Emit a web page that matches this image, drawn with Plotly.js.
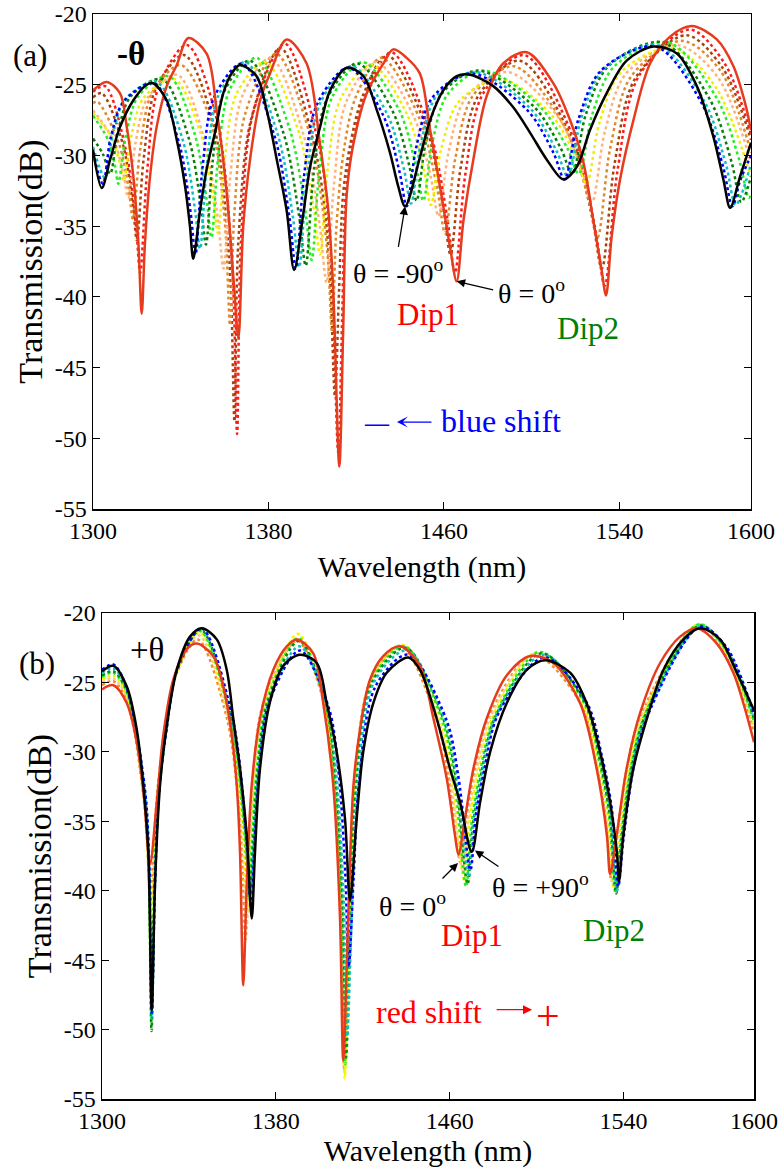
<!DOCTYPE html>
<html><head><meta charset="utf-8">
<script src="https://cdn.plot.ly/plotly-3.0.1.min.js"></script>
<style>html,body{margin:0;padding:0;background:#fff}#chart{width:781px;height:1168px}</style>
</head><body><div id="chart"></div>
<script>
// ---------- ticks ----------
const XTICKS = [1300, 1380, 1460, 1540, 1600];
const XTICK_LABELS = ['1300', '1380', '1460', '1540', '1600'];
const YTICKS = [-55, -50, -45, -40, -35, -30, -25, -20];
const YTICK_LABELS = ['-55', '-50', '-45', '-40', '-35', '-30', '-25', '-20'];

// ---------- panel (a): -theta ----------
const A_RED_X = [1300,1306.2,1312.3,1315.4,1318.4,1320.7,1322.2,1323.7,1326,1329,1333.6,1338.2,1343.5,1351.8,1356.4,1361,1364,1366.3,1368.5,1371.6,1376.2,1380.7,1388.3,1397.4,1403.5,1407.3,1409.6,1412.3,1414.1,1415.7,1418.7,1424.8,1432.4,1436.9,1443,1449,1453.7,1458.2,1462.8,1465.8,1468.9,1473.4,1479.5,1487,1497.8,1509.9,1517.5,1523.6,1528.1,1531.9,1533.9,1536.5,1540.3,1546.4,1554,1563.1,1573,1584.4,1592,1597.3,1600];
const A_RED_Y = [-25.4,-24.8,-25.6,-28,-31.5,-36.2,-41.2,-36.2,-31.5,-28,-25.1,-23.6,-21.7,-22.8,-26.8,-32.7,-38.6,-42.9,-35,-30.3,-26.1,-24.2,-21.8,-23.5,-29.2,-33.9,-39.8,-52,-42.1,-32.7,-29.2,-25.6,-23.5,-22.5,-23.1,-24.2,-28.2,-32.2,-36.5,-38.9,-34.6,-30.3,-25.8,-23.5,-22.7,-24.9,-27.5,-30.5,-34.6,-38.1,-39.9,-35.7,-31.7,-27.5,-23.5,-21.6,-20.85,-21.8,-23.7,-26.3,-28.2];
const A_BLK_X = [1300,1304,1307.8,1312.3,1318.4,1324.5,1327.4,1333.6,1338.2,1342,1344.2,1345.7,1348.8,1351.8,1355.6,1359.4,1363.2,1367,1374.6,1379.2,1383.8,1388.3,1391.7,1395.9,1399,1403.5,1408.1,1415.7,1423.3,1429.4,1435.4,1439.2,1442.3,1449.1,1453.7,1459.7,1465.8,1471.9,1482.5,1491.6,1499.3,1506.9,1514.5,1520.6,1526.6,1534.2,1543.3,1555.5,1566.2,1575.3,1582.9,1587.4,1590.5,1595,1600];
const A_BLK_Y = [-29.6,-32.3,-30.3,-28,-26.1,-25,-24.9,-26.1,-28.9,-32.2,-35,-37.3,-33.9,-31,-28.4,-25.6,-24.2,-23.6,-24.4,-26.8,-30.3,-33.9,-38.1,-34.1,-30.8,-28,-25.4,-23.8,-24.4,-26.8,-29.8,-32.2,-33.6,-30.1,-27.5,-25.4,-24.4,-24.3,-25.1,-26.6,-28.4,-30.3,-31.7,-30.8,-28.2,-25.6,-23.3,-22.3,-22.8,-25.1,-28.7,-31.7,-33.7,-31.5,-29.1];
const A_RD_X = [1300,1305.5,1315.1,1319.6,1321.5,1324.7,1330,1342.8,1356.5,1363.5,1365.7,1367.5,1373,1387.5,1403,1407,1409.2,1411.8,1413.6,1415.2,1418.3,1424.3,1436,1453.4,1461.5,1465,1469.7,1477.6,1496.5,1518.6,1528.9,1533.3,1539.1,1548.8,1572,1588,1600];
const A_RD_Y = [-25.5,-25.1,-29.7,-35,-38.3,-31.1,-25.1,-22.2,-27.5,-38,-49.7,-36,-27,-22.1,-29.3,-34,-39.5,-51,-41.5,-32.8,-29.3,-25.7,-22.7,-28.2,-34.4,-38.3,-31.4,-25.7,-22.9,-28.6,-35.1,-39.2,-31.1,-24.4,-21.1,-23.5,-28.5];
const A_BR_X = [1300,1304,1313.6,1318.1,1320,1323.2,1328.6,1341.5,1355,1362.2,1364.5,1366.3,1372,1385.5,1400.5,1405.8,1408.2,1410.3,1412.2,1414,1417.2,1423,1434,1451.4,1459.5,1463,1467.7,1475.6,1494.5,1517,1527.5,1532,1537.8,1547.4,1570.5,1587,1600];
const A_BR_Y = [-25.9,-25.6,-29.2,-33.4,-36,-30.1,-25.3,-22.9,-27.8,-37.5,-48.8,-36,-27.5,-22.4,-29,-34,-39,-47,-39.5,-32.8,-29.3,-25.8,-22.9,-27.8,-33.5,-37,-30.8,-25.8,-23.3,-28.4,-34.3,-38,-30.6,-24.5,-21.5,-23.8,-28.9];
const A_OR_X = [1300,1302,1311.7,1316.3,1318.2,1321.5,1326.9,1340,1353.5,1360,1362.5,1364.5,1369.5,1383.5,1398.8,1404.5,1407.2,1409,1411,1414.5,1420,1431.5,1448.9,1457,1460.5,1465.2,1473.1,1492,1514.8,1525.4,1530,1535.8,1545.4,1568.5,1586,1600];
const A_OR_Y = [-26.3,-26.2,-29.1,-32.4,-34.5,-29.6,-25.6,-23.6,-27.5,-34.5,-42,-34,-27,-22.8,-28.5,-33.5,-37.5,-42.5,-35,-29.5,-25.8,-23.1,-27.4,-32.4,-35.5,-30.2,-25.8,-23.7,-27.9,-32.8,-35.8,-29.5,-24.4,-21.9,-24,-29.8];
const A_PE_X = [1300,1309.6,1314.1,1316,1319.4,1325,1338.5,1351.1,1357,1359.5,1362.7,1368.1,1381,1396.3,1403.4,1406.5,1409.9,1415.5,1429,1446.1,1454.1,1457.5,1462.2,1470.1,1489,1512.1,1522.9,1527.5,1533.4,1543.1,1566.5,1585,1600];
const A_PE_Y = [-26.8,-29,-31.5,-33,-29.1,-25.9,-24.3,-29.1,-34.6,-38,-31.3,-25.8,-23.1,-28.7,-35,-39,-32,-26.2,-23.4,-27.2,-31.6,-34.3,-29.7,-25.9,-24.1,-27.3,-31,-33.3,-28.3,-24.2,-22.2,-24.5,-30.5];
const A_YE_X = [1300,1308.4,1312.3,1314,1317.5,1323.2,1337,1349,1354.6,1357,1360.2,1365.6,1378.5,1393.5,1400.5,1403.5,1407,1412.9,1427,1443.2,1450.8,1454,1458.8,1466.8,1486,1509.4,1520.3,1525,1530.9,1540.8,1564.5,1584,1600];
const A_YE_Y = [-27,-28.7,-30.6,-31.8,-28.6,-25.9,-24.6,-28.4,-32.8,-35.5,-30.1,-25.6,-23.4,-28.2,-33.6,-37,-31,-26,-23.6,-27.1,-31,-33.5,-29.5,-26.2,-24.6,-27.2,-30.2,-32,-27.7,-24.1,-22.4,-25.2,-31.5];
const A_LI_X = [1300,1306.9,1310.1,1311.5,1315,1320.7,1334.5,1346.2,1351.7,1354,1357.1,1362.2,1374.5,1389.6,1396.7,1399.7,1403.2,1409,1423,1439.6,1447.3,1450.6,1454.7,1461.6,1478,1504.1,1516.3,1521.5,1527.6,1537.7,1562,1584.2,1594.6,1599,1600];
const A_LI_Y = [-27.2,-28.9,-30.8,-32,-28.6,-25.8,-24.4,-28.4,-33,-35.8,-30.1,-25.4,-23.1,-28.1,-33.8,-37.4,-31.1,-25.9,-23.4,-26.8,-30.8,-33.2,-29.1,-25.7,-24,-26.6,-29.5,-31.3,-27.1,-23.7,-22,-25.9,-30.3,-33,-32.8];
const A_DG_X = [1300,1304.5,1307.8,1311.4,1317.3,1331.5,1343.5,1349.1,1351.5,1354.5,1359.5,1371.5,1386.8,1393.9,1397,1400.5,1406.4,1420.5,1436.7,1444.3,1447.5,1451.7,1458.7,1475.5,1501.3,1513.3,1518.5,1524.7,1534.9,1559.5,1581.1,1591.2,1595.5,1600];
const A_DG_Y = [-28.8,-29.9,-31.3,-28.3,-25.8,-24.6,-28.7,-33.4,-36.3,-30.5,-25.6,-23.3,-28.4,-34.2,-37.8,-31.4,-26.1,-23.5,-26.9,-30.8,-33.2,-29.1,-25.7,-24,-26.6,-29.5,-31.3,-27.1,-23.7,-22,-26,-30.5,-33.3,-31.5];
const A_CY_X = [1300,1305.5,1309,1314.9,1329,1340.9,1346.4,1348.8,1351.9,1357.1,1369.5,1384.2,1391.1,1394,1397.6,1403.6,1418,1434.2,1441.8,1445,1449.4,1456.6,1474,1499.5,1511.4,1516.5,1522.7,1532.9,1557.5,1578.8,1588.7,1593,1600];
const A_CY_Y = [-29.4,-31.6,-28.5,-26,-24.8,-28.9,-33.7,-36.6,-30.7,-25.8,-23.4,-28.5,-34.3,-37.9,-31.5,-26.3,-23.7,-27.1,-31,-33.4,-29.2,-25.8,-24.1,-26.7,-29.7,-31.5,-27.3,-23.9,-22.2,-26.2,-30.7,-33.5,-30.6];
const A_BL_X = [1300,1304.5,1308,1313.9,1328,1339.2,1344.5,1346.7,1349.9,1355.2,1368,1382.7,1389.6,1392.5,1396.1,1402.1,1416.5,1432.4,1439.8,1443,1447.4,1454.8,1472.5,1498,1509.9,1515,1521.2,1531.6,1556.5,1577.5,1587.3,1591.5,1595,1600];
const A_BL_Y = [-29.8,-32,-28.8,-26.2,-24.9,-29.1,-34,-37,-30.9,-25.9,-23.5,-28.6,-34.4,-38,-31.6,-26.4,-23.8,-27.2,-31.2,-33.6,-29.4,-25.9,-24.2,-26.8,-29.8,-31.7,-27.5,-24,-22.3,-26.3,-30.8,-33.6,-31.8,-30];

// ---------- panel (b): +theta ----------
const B_RED_X = [1300,1305.2,1311.4,1316,1319.5,1322.1,1325.2,1328.2,1332.8,1339,1343.6,1351.2,1355.8,1359.7,1362,1363.5,1365,1366.6,1368.9,1372.7,1378.8,1385,1389.6,1397.2,1401.8,1406.4,1409.5,1411,1413.3,1415.7,1418.7,1423.3,1429.4,1437.1,1446.3,1452.5,1458.6,1462.4,1464,1467,1470.9,1477,1486.2,1497,1507.7,1520,1527.6,1532.3,1533.8,1536.8,1541.4,1547.6,1556.8,1566,1573.7,1582.9,1590.5,1595.1,1600];
const B_RED_Y = [-25.5,-25.2,-26.5,-29.3,-33.5,-38.1,-33.6,-28.8,-24.8,-22.6,-22.2,-23.1,-25.3,-28.8,-32.4,-37.2,-46.8,-39.5,-32.4,-27.6,-24.1,-22.4,-21.9,-22.9,-26.5,-32.4,-41.9,-52.2,-41.9,-32.4,-28.4,-24.8,-23.1,-22.4,-23.8,-27.6,-31.9,-36,-37.4,-34.8,-31.2,-27.6,-24.5,-23.1,-23.6,-26.5,-31.2,-36,-38.8,-36,-31.2,-27.2,-23.6,-21.7,-21.1,-22.2,-24.3,-26.5,-29.3];
const B_BLK_X = [1300,1305.2,1311.4,1316,1319,1321.3,1322.9,1324.4,1326.7,1329.8,1334.4,1340.5,1345.9,1352.8,1357.4,1360.4,1363.5,1366.6,1368.9,1370.4,1372.7,1377.3,1383.4,1391.1,1398.8,1403.4,1408,1411.8,1414.1,1417.2,1420.2,1424.8,1431,1441,1446.3,1454,1460.1,1464.7,1470.1,1474,1478.6,1486.2,1495.4,1503.9,1515.4,1523,1529.2,1533.8,1536.9,1537.9,1539.9,1544.5,1550.7,1558.3,1567.5,1575.2,1584.4,1592.1,1600];
const B_BLK_Y = [-24.2,-23.8,-25.3,-28.4,-32.4,-37.2,-48.6,-39.5,-32.4,-28.1,-24.1,-21.7,-21.1,-21.9,-24.1,-27.6,-31.2,-36,-42,-37.2,-31.2,-26.4,-23.8,-23,-23.6,-26.5,-30,-34.8,-40.7,-34.8,-30,-26.5,-24.3,-23.2,-24.1,-27.6,-31.2,-33.6,-37.2,-33.6,-30,-26.5,-24.1,-23.4,-24.3,-26.5,-30,-33.6,-37.2,-39.3,-36,-31.2,-27.6,-24.1,-21.9,-21.1,-21.9,-24.3,-27];
const B_OR_X = [1300,1305.1,1311.4,1318.9,1320.9,1322.2,1323.7,1325.7,1329.2,1334.5,1344,1357.5,1363.7,1366,1367.5,1369.8,1374.4,1389.8,1402.2,1406.8,1409.9,1411.4,1413.7,1416.1,1423.7,1437.6,1454,1459.5,1465,1467.5,1471.5,1478,1498.5,1520.2,1527,1531.5,1534.5,1537,1541.5,1547.8,1574,1586,1600];
const B_OR_Y = [-25.2,-24.9,-26.3,-33,-37,-41,-37,-32.5,-28.4,-24.3,-21.9,-27.6,-35.5,-43.5,-37,-31.2,-26.4,-22,-26.5,-32.4,-41.5,-52.8,-41.5,-32.4,-24.8,-22.4,-27.7,-31.8,-38,-35,-31.4,-27.5,-23,-26.5,-30.6,-34.5,-39.3,-36,-31.2,-27.4,-20.9,-22.6,-28.6];
const B_PE_X = [1300,1305.1,1311.4,1319.1,1321.1,1322.4,1323.9,1325.9,1329.4,1334.5,1344.4,1358.1,1364.3,1366.6,1368.1,1370.4,1375,1390,1402.4,1407,1410.1,1411.6,1413.9,1416.3,1423.9,1438.2,1454.8,1460.3,1465.8,1468.3,1472.3,1478.8,1499.5,1520.7,1527.5,1532,1535,1537.5,1542,1548.3,1574.3,1586.3,1600];
const B_PE_Y = [-25,-24.7,-26.1,-33,-37.3,-42.5,-38,-32.8,-28.4,-24.2,-21.6,-27.6,-35.5,-42.5,-37,-31.2,-26.4,-21.9,-26.5,-32.4,-41.5,-53.2,-41.5,-32.4,-24.8,-22.3,-27.7,-31.8,-38.5,-35,-31.4,-27.5,-22.9,-26.5,-30.6,-34.5,-39.6,-36,-31.2,-27.4,-20.9,-22.6,-28.3];
const B_YE_X = [1300,1305.1,1311.4,1319.2,1321.2,1322.5,1324,1326,1329.5,1334.5,1344.8,1358.5,1364.7,1367,1368.5,1370.8,1375.4,1390.2,1402.5,1407.1,1410.2,1411.7,1414,1416.4,1424,1438.7,1455.6,1461.1,1466.6,1469.1,1473.1,1479.6,1500.5,1521.3,1528.1,1532.6,1535.6,1538.1,1542.6,1548.9,1574.5,1586.5,1600];
const B_YE_Y = [-24.8,-24.5,-25.9,-33,-37.5,-45,-38.5,-33,-28.4,-24.2,-21.4,-27.6,-35.3,-41.5,-36.8,-31.2,-26.4,-21.5,-26.5,-32.4,-41.5,-53.5,-41.5,-32.4,-24.8,-22.3,-27.7,-31.8,-39.2,-35,-31.4,-27.5,-22.8,-26.5,-30.6,-34.5,-39.8,-36,-31.2,-27.4,-20.8,-22.6,-28];
const B_LI_X = [1300,1305.1,1311.4,1319.4,1321.4,1322.7,1324.2,1326.2,1329.7,1334.5,1345.1,1359,1365.2,1367.5,1369,1371.3,1375.9,1390.4,1402.8,1407.4,1410.5,1412,1414.3,1416.7,1424.3,1439.2,1456.5,1462,1467.5,1470,1474,1480.5,1501.5,1521.9,1528.7,1533.2,1536.2,1538.7,1543.2,1549.5,1574.7,1586.7,1600];
const B_LI_Y = [-24.6,-24.3,-25.7,-33,-38,-49.5,-39,-33,-28.3,-24.1,-21.3,-27.6,-35.2,-40.5,-36.5,-31.1,-26.3,-21.8,-26.5,-32.4,-41.5,-52.5,-41.5,-32.4,-24.8,-22.4,-27.7,-31.8,-39.7,-35.2,-31.4,-27.5,-22.8,-26.5,-30.6,-34.5,-40.1,-36.2,-31.2,-27.4,-20.8,-22.6,-27.8];
const B_DG_X = [1300,1305.2,1311.4,1319.5,1321.5,1322.8,1324.3,1326.3,1329.8,1334.5,1345.4,1359.5,1365.7,1368,1369.5,1371.8,1376.4,1390.6,1403.1,1407.7,1410.8,1412.3,1414.6,1417,1424.6,1439.7,1457.2,1462.7,1468.2,1470.7,1474.7,1481.2,1502.3,1522.3,1529.1,1533.6,1536.6,1539.1,1543.6,1549.9,1574.9,1586.9,1600];
const B_DG_Y = [-24.5,-24.2,-25.6,-32.8,-38,-50.1,-39.3,-32.8,-28.2,-24.1,-21.2,-27.6,-35.3,-40.2,-36.5,-31,-26.3,-22,-26.6,-32.4,-41.5,-52,-41.5,-32.5,-24.9,-22.5,-27.7,-31.8,-39.5,-35.2,-31.4,-27.4,-22.9,-26.5,-30.6,-34.5,-40.2,-36.2,-31.2,-27.4,-20.9,-22.5,-27.6];
const B_CY_X = [1300,1305.2,1311.4,1319.6,1321.6,1322.9,1324.4,1326.4,1329.9,1334.5,1345.6,1359.8,1366,1368.3,1369.8,1372.1,1376.7,1390.8,1403.6,1408.2,1411.3,1412.8,1415.1,1417.5,1425.1,1440.2,1457.8,1463.3,1468.8,1471.3,1475.3,1481.8,1503,1522.7,1529.5,1534,1537,1539.5,1544,1550.3,1575,1587,1600];
const B_CY_Y = [-24.3,-24,-25.5,-32.6,-37.5,-49.2,-39.3,-32.6,-28.2,-24.1,-21.1,-27.6,-35.5,-40.6,-36.7,-31.1,-26.4,-22.4,-26.7,-32.2,-41,-50.5,-41,-32.6,-25,-22.7,-27.7,-31.8,-39,-34.8,-31.3,-27.3,-23,-26.5,-30.5,-34.3,-40,-36.2,-31.2,-27.5,-21,-22.5,-27.4];
const B_BL_X = [1300,1305.2,1311.4,1319.6,1321.6,1322.9,1324.4,1326.4,1329.9,1334.5,1345.8,1360.1,1366.3,1368.6,1370.1,1372.4,1377,1391,1404.3,1408.9,1412,1413.5,1415.8,1418.2,1425.8,1440.7,1458.5,1464,1469.5,1472,1476,1482.5,1503.5,1523.2,1530,1534.5,1537.5,1540,1544.5,1550.8,1575.1,1587.1,1600];
const B_BL_Y = [-24.1,-23.7,-25.4,-32.5,-37.3,-48.8,-39.3,-32.5,-28.1,-24.1,-21.1,-27.6,-35.8,-41.2,-37,-31.2,-26.4,-22.7,-26.8,-31.5,-39,-45.5,-39,-32.3,-25.3,-23,-27.7,-31.8,-38.5,-34.6,-31.2,-27.2,-23.2,-26.5,-30.3,-34,-39.7,-36.2,-31.2,-27.5,-21,-22.4,-27.3];

// ---------- traces ----------
const SERIES_A = [
  [A_RD_X, A_RD_Y, '#ff1a1a', 'dot'], [A_BR_X, A_BR_Y, '#a8420c', 'dot'], [A_OR_X, A_OR_Y, '#e0882a', 'dot'],
  [A_PE_X, A_PE_Y, '#ffb27a', 'dot'], [A_YE_X, A_YE_Y, '#eeee00', 'dot'], [A_LI_X, A_LI_Y, '#22ee22', 'dot'],
  [A_DG_X, A_DG_Y, '#0a7d0a', 'dot'], [A_CY_X, A_CY_Y, '#10c0c0', 'dot'], [A_BL_X, A_BL_Y, '#0000ff', 'dot'],
  [A_RED_X, A_RED_Y, '#e63c1e', 'solid'], [A_BLK_X, A_BLK_Y, '#000000', 'solid']
];
const SERIES_B = [
  [B_OR_X, B_OR_Y, '#f08c28', 'dot'], [B_PE_X, B_PE_Y, '#ffc890', 'dot'], [B_YE_X, B_YE_Y, '#f5f500', 'dot'],
  [B_LI_X, B_LI_Y, '#22ee22', 'dot'], [B_DG_X, B_DG_Y, '#0a8a0a', 'dot'], [B_CY_X, B_CY_Y, '#10c0c0', 'dot'],
  [B_BL_X, B_BL_Y, '#0000ff', 'dot'],
  [B_RED_X, B_RED_Y, '#e63c1e', 'solid'], [B_BLK_X, B_BLK_Y, '#000000', 'solid']
];
const traces = [];
SERIES_A.forEach(s => traces.push({x: s[0], y: s[1], type: 'scatter', mode: 'lines', xaxis: 'x', yaxis: 'y',
  line: {color: s[2], dash: s[3], width: 2.5, shape: 'spline', smoothing: 0.9}, hoverinfo: 'skip'}));
SERIES_B.forEach(s => traces.push({x: s[0], y: s[1], type: 'scatter', mode: 'lines', xaxis: 'x2', yaxis: 'y2',
  line: {color: s[2], dash: s[3], width: 2.5, shape: 'spline', smoothing: 0.9}, hoverinfo: 'skip'}));

// ---------- layout ----------
const SERIF = 'Liberation Serif, Times New Roman, serif';
function xa(domain, anchor, standoff) {
  return {domain: domain, anchor: anchor, range: [1300, 1600], tickmode: 'array', tickvals: XTICKS, ticktext: XTICK_LABELS,
    ticks: 'inside', ticklen: 7, tickwidth: 1, tickcolor: '#000', showline: true, linecolor: '#000', linewidth: 1.5,
    mirror: 'ticks', showgrid: false, zeroline: false, tickfont: {family: SERIF, size: 24, color: '#000'},
    title: {text: 'Wavelength (nm)', font: {family: SERIF, size: 30, color: '#000'}, standoff: standoff}};
}
function ya(domain, anchor) {
  return {domain: domain, anchor: anchor, range: [-55, -20], tickmode: 'array', tickvals: YTICKS, ticktext: YTICK_LABELS,
    ticks: 'inside', ticklen: 7, tickwidth: 1, tickcolor: '#000', showline: true, linecolor: '#000', linewidth: 1.5,
    mirror: 'ticks', showgrid: false, zeroline: false, tickfont: {family: SERIF, size: 24, color: '#000'},
    title: {text: 'Transmission(dB)', font: {family: SERIF, size: 34, color: '#000'}, standoff: 2}};
}
const W = 781, H = 1168, ML = 93, MR = 27, MT = 14, MB = 65;
const PW = W - ML - MR, PH = H - MT - MB;
// text position given in figure pixels -> paper coordinates of the plotting area
function txt(px, py, text, size, color, extra) {
  return Object.assign({xref: 'paper', yref: 'paper', x: (px - ML) / PW, y: (H - MB - py) / PH, xanchor: 'center', yanchor: 'middle',
    text: text, showarrow: false, font: {family: SERIF, size: size, color: color}}, extra || {});
}
function arrow(xr, yr, x, y, ax, ay, color, head, size) {
  return {xref: xr, yref: yr, x: x, y: y, ax: ax, ay: ay, text: '', showarrow: true, arrowhead: head || 2,
    arrowsize: size || 1.3, arrowwidth: 1.3, arrowcolor: color};
}
const annotations = [
  txt(30, 55, '(a)', 31, '#000'),
  txt(131, 54, '<b>-θ</b>', 33, '#000'),
  txt(398, 272, 'θ = -90<sup>o</sup>', 28, '#000'),
  arrow('x', 'y', 1442.3, -33.6, -7, 42, '#000'),
  txt(531, 291, 'θ = 0<sup>o</sup>', 28, '#000'),
  arrow('x', 'y', 1465.8, -38.9, 38, 9, '#000'),
  txt(428, 314, 'Dip1', 31, '#ff0000'),
  txt(588, 328, 'Dip2', 31, '#008000'),
  txt(377, 423, '<b>—</b>', 24, '#0000ff'),
  arrow('x', 'y', 1438.6, -48.85, 36, 0, '#0000ff', 3, 1.4),
  txt(501, 421, 'blue shift', 32, '#0000ff'),
  txt(37, 663, '(b)', 31, '#000'),
  txt(147, 650, '+θ', 33, '#000'),
  txt(412, 905, 'θ = 0<sup>o</sup>', 28, '#000'),
  arrow('x2', 'y2', 1463.8, -38.0, -17, 17, '#000'),
  txt(540, 885, 'θ = +90<sup>o</sup>', 28, '#000'),
  arrow('x2', 'y2', 1471.6, -37.1, 25, 17, '#000'),
  txt(472, 935, 'Dip1', 31, '#ff0000'),
  txt(614, 930, 'Dip2', 31, '#008000'),
  txt(429, 1012, 'red shift', 32, '#ff0000'),
  arrow('x2', 'y2', 1497.9, -48.57, -37, 0, '#ff0000', 2, 1.4),
  txt(548, 1016, '+', 42, '#ff0000')
];
const layout = {
  width: W, height: H, margin: {l: ML, r: MR, t: MT, b: MB, pad: 0},
  paper_bgcolor: '#fff', plot_bgcolor: '#fff', showlegend: false,
  font: {family: SERIF, size: 24, color: '#000'},
  xaxis: xa([0, 0.99546], 'y', 12), yaxis: ya([0.54545, 1], 'x'),
  xaxis2: xa([0.01362, 1], 'y2', 6), yaxis2: ya([0.00367, 0.44995], 'x2'),
  annotations: annotations
};
Plotly.newPlot('chart', traces, layout, {staticPlot: true, displayModeBar: false});
</script></body></html>
